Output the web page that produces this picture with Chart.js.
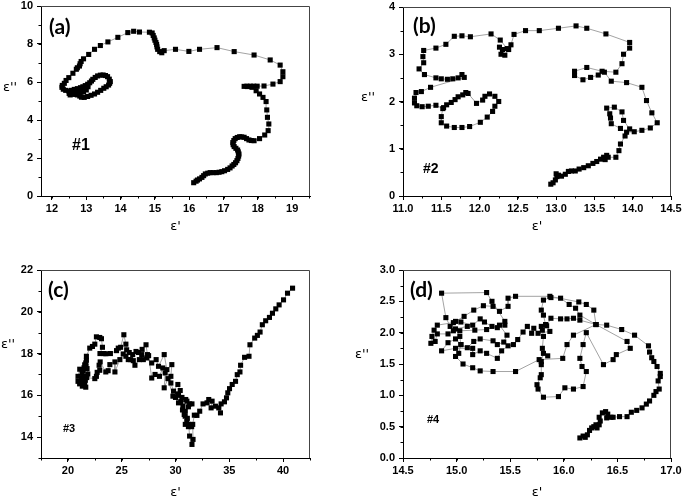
<!DOCTYPE html>
<html>
<head>
<meta charset="utf-8">
<script src="https://cdn.jsdelivr.net/npm/chart.js@4"></script>
<style>
body { margin: 0; background: #fff; }
#wrap { position: relative; width: 685px; height: 502px; }
canvas { position: absolute; }
</style>
</head>
<body>
<div id="wrap">
  <canvas id="ca" style="left:0;top:0" width="342" height="245"></canvas>
  <canvas id="cb" style="left:342px;top:0" width="343" height="245"></canvas>
  <canvas id="cc" style="left:0;top:245px" width="342" height="257"></canvas>
  <canvas id="cd" style="left:342px;top:245px" width="343" height="257"></canvas>
</div>
<script>
// punti (eps', eps''), nell'ordine della curva
const puntiA = [
  [16.13,0.70],[16.2,0.78],[16.24,0.84],[16.3,0.9],[16.37,0.98],[16.42,1.07],[16.47,1.16],[16.54,1.2],[16.61,1.23],[16.7,1.23],
  [16.79,1.23],[16.87,1.25],[16.95,1.28],[17.03,1.33],[17.12,1.4],[17.19,1.48],[17.25,1.58],[17.3,1.66],[17.35,1.75],[17.39,1.86],
  [17.42,1.98],[17.44,2.1],[17.45,2.21],[17.43,2.32],[17.41,2.42],[17.36,2.51],[17.31,2.6],[17.28,2.7],[17.27,2.81],[17.3,2.92],
  [17.34,3.02],[17.4,3.08],[17.47,3.12],[17.53,3.11],[17.6,3.09],[17.67,3.02],[17.74,2.95],[17.81,2.92],[17.89,2.91],[18.05,3.02],
  [18.2,3.21],[18.3,3.44],[18.32,3.79],[18.28,4.14],[18.26,4.53],[18.24,4.97],[18.15,5.19],[18.05,5.37],[17.95,5.54],[17.83,5.72],
  [17.7,5.76],[17.6,5.77],[17.68,5.78],[17.78,5.78],[17.88,5.78],[17.98,5.78],[18.18,5.79],[18.44,5.89],[18.65,6.02],[18.73,6.28],
  [18.73,6.54],[18.65,6.89],[18.36,7.16],[17.89,7.42],[17.31,7.6],[16.81,7.81],[16.3,7.72],[15.99,7.61],[15.6,7.72],[15.27,7.65],
  [15.2,7.54],[15.14,7.6],[15.08,7.72],[15.06,7.85],[15.05,7.97],[15.03,8.08],[15.0,8.2],[14.98,8.32],[14.95,8.45],[14.92,8.58],
  [14.84,8.62],[14.55,8.63],[14.38,8.67],[14.21,8.6],[13.92,8.35],[13.63,8.11],[13.41,7.92],[13.24,7.72],[13.07,7.45],[12.92,7.22],
  [12.85,7.08],[12.82,6.96],[12.8,6.84],[12.74,6.75],[12.71,6.67],[12.61,6.46],[12.49,6.23],[12.41,6.08],[12.36,5.93],[12.3,5.82],
  [12.29,5.72],[12.33,5.62],[12.4,5.56],[12.49,5.53],[12.57,5.56],[12.65,5.61],[12.74,5.65],[12.83,5.7],[12.9,5.75],[12.97,5.81],
  [13.04,5.88],[13.1,5.96],[13.15,6.05],[13.19,6.14],[13.26,6.24],[13.33,6.32],[13.41,6.36],[13.49,6.37],[13.56,6.34],[13.62,6.28],
  [13.67,6.15],[13.7,6.02],[13.68,5.93],[13.65,5.84],[13.58,5.75],[13.51,5.67],[13.42,5.56],[13.33,5.46],[13.24,5.37],[13.14,5.3],
  [13.04,5.24],[12.94,5.19],[12.86,5.2],[12.81,5.26],[12.74,5.32],[12.68,5.37],[12.6,5.35],[12.53,5.32],[12.5,5.4],[12.55,5.49],
  [12.64,5.52],[12.72,5.55],[12.81,5.6],[12.9,5.65],[12.98,5.7],[13.05,5.75],[13.0,5.58],[12.92,5.48],[12.82,5.4],[12.72,5.36]
];

const puntiB = [
  [12.93,0.25],[12.96,0.28],[12.99,0.34],[13.01,0.41],[13.0,0.47],[13.03,0.44],[13.07,0.42],[13.12,0.46],[13.16,0.52],[13.2,0.53],
  [13.25,0.53],[13.3,0.57],[13.36,0.6],[13.42,0.64],[13.48,0.69],[13.53,0.73],[13.58,0.78],[13.62,0.82],[13.66,0.86],[13.64,0.77],
  [13.68,0.82],[13.78,0.82],[13.82,0.96],[13.84,1.1],[13.9,1.27],[13.96,1.42],[13.88,1.6],[13.86,1.78],[13.76,1.88],[13.66,1.86],
  [13.7,1.74],[13.71,1.65],[13.72,1.53],[13.84,1.43],[13.92,1.35],[14.02,1.36],[14.12,1.39],[14.23,1.44],[14.32,1.55],[14.25,1.76],
  [14.18,2.02],[14.12,2.3],[13.92,2.4],[13.72,2.43],[13.63,2.62],[13.55,2.56],[13.45,2.51],[13.35,2.46],[13.24,2.55],[13.24,2.64],
  [13.4,2.72],[13.6,2.64],[13.78,2.62],[13.86,2.8],[13.88,3.0],[13.96,3.13],[13.96,3.25],[13.65,3.43],[13.4,3.55],[13.26,3.6],
  [13.03,3.55],[12.78,3.5],[12.6,3.5],[12.45,3.42],[12.41,3.2],[12.38,3.1],[12.33,2.98],[12.28,3.0],[12.26,3.15],[12.3,3.1],
  [12.36,3.12],[12.27,3.3],[12.15,3.43],[11.88,3.37],[11.77,3.39],[11.67,3.38],[11.56,3.21],[11.43,3.13],[11.27,3.08],[11.26,2.95],
  [11.27,2.82],[11.21,2.69],[11.28,2.57],[11.43,2.5],[11.5,2.48],[11.58,2.47],[11.65,2.48],[11.72,2.5],[11.77,2.57],[11.8,2.51],
  [11.36,2.3],[11.24,2.21],[11.17,2.19],[11.15,2.07],[11.15,1.97],[11.18,1.91],[11.25,1.89],[11.33,1.9],[11.43,1.92],[11.52,1.85],
  [11.5,1.68],[11.5,1.55],[11.57,1.48],[11.67,1.45],[11.77,1.45],[11.87,1.47],[12.01,1.56],[12.1,1.67],[12.17,1.79],[12.2,1.9],
  [12.25,2.0],[12.2,2.11],[12.13,2.16],[12.07,2.11],[12.04,2.03],[11.96,1.96],[11.85,2.17],[11.82,2.19],[11.78,2.14],[11.72,2.1],
  [11.68,2.04],[11.63,1.98],[11.57,1.93],[11.53,1.87]
];

const puntiC = [
  [40.88,21.13],[40.41,20.89],[40.04,20.57],[39.63,20.33],[39.32,20.14],[39.01,19.93],[38.73,19.73],[38.38,19.57],[38.07,19.38],[37.86,19.03],
  [37.61,18.87],[37.36,18.74],[36.92,18.42],[36.83,17.87],[36.42,17.82],[36.05,17.44],[35.99,17.12],[35.74,16.99],[35.58,16.67],[35.27,16.52],
  [35.02,16.32],[34.86,16.12],[34.74,15.88],[34.55,15.69],[34.24,15.59],[34.18,15.16],[34.02,15.4],[33.71,15.48],[33.31,15.4],[33.4,15.72],
  [33.09,15.8],[32.93,15.64],[32.56,15.59],[32.25,15.24],[31.99,15.04],[31.75,15.05],[31.6,14.61],[31.63,13.89],[31.53,13.65],[31.31,14.05],
  [31.22,14.61],[30.91,14.61],[31.1,14.9],[30.81,15.08],[30.91,15.24],[30.69,15.48],[31.06,15.72],[31.31,15.59],[31.53,15.59],[31.2,15.45],
  [30.95,15.8],[30.6,15.9],[30.28,15.64],[30.2,16.0],[30.44,16.23],[30.22,16.52],[29.82,16.2],[29.57,16.59],[29.57,16.91],[29.66,17.47],
  [29.2,17.23],[28.95,17.95],[28.42,17.39],[28.2,17.71],[27.79,17.55],[27.33,17.79],[27.39,17.95],[27.26,18.42],[26.9,18.2],[26.55,18.05],
  [26.33,18.1],[26.02,17.95],[25.7,18.05],[25.46,18.18],[25.39,18.45],[25.2,18.9],[24.9,18.3],[24.68,18.26],[24.52,18.14],[23.95,18.0],
  [23.52,17.99],[23.34,18.0],[22.98,18.0],[23.21,18.3],[23.12,18.71],[22.96,18.77],[22.65,18.8],[22.5,18.45],[22.28,18.34],[22.03,18.26],
  [21.72,17.87],[21.72,17.68],[21.66,17.55],[21.56,17.46],[21.5,17.32],[21.42,17.18],[21.32,17.05],[21.28,16.83],[21.5,16.92],[21.62,16.72],
  [21.66,16.39],[21.56,16.59],[21.45,16.52],[21.34,16.44],[21.2,16.62],[21.09,16.55],[20.94,16.67],[20.94,16.91],[21.1,17.25],[21.68,17.4],
  [21.78,17.28],[21.85,17.02],[21.75,16.85],[22.5,16.8],[22.65,16.91],[22.72,17.1],[22.96,17.2],[22.9,17.44],[23.0,17.6],[23.52,17.12],
  [23.74,17.18],[23.9,17.47],[24.37,17.6],[24.37,17.12],[24.83,17.71],[25.14,17.98],[25.39,17.87],[25.61,17.71],[25.83,17.71],[26.08,17.66],
  [26.23,17.44],[26.64,17.71],[26.86,17.95],[27.01,17.71],[27.5,17.9],[27.79,16.83],[28.1,17.0],[28.51,16.91],[28.82,17.31],[29.04,17.07],
  [28.95,16.36],[29.3,16.8],[29.76,15.96],[30.0,15.9],[30.28,16.07],[30.5,15.7],[30.65,15.3],[30.9,15.0],[31.05,14.75],[31.2,14.5],
  [31.35,14.6],[31.5,14.5]
];

const puntiD = [
  [16.15,0.32],[16.18,0.35],[16.2,0.33],[16.22,0.37],[16.24,0.44],[16.26,0.48],[16.28,0.5],[16.3,0.53],[16.31,0.48],[16.33,0.53],
  [16.34,0.59],[16.33,0.65],[16.36,0.72],[16.39,0.74],[16.41,0.7],[16.4,0.64],[16.44,0.65],[16.46,0.65],[16.52,0.66],[16.59,0.66],
  [16.63,0.73],[16.68,0.76],[16.73,0.8],[16.77,0.86],[16.8,0.91],[16.84,1.0],[16.86,1.06],[16.89,1.1],[16.88,1.23],[16.9,1.3],
  [16.9,1.35],[16.87,1.46],[16.84,1.54],[16.82,1.6],[16.8,1.69],[16.79,1.79],[16.66,1.96],[16.54,2.05],[16.4,2.12],[16.3,2.13],
  [16.59,1.86],[16.62,1.75],[16.49,1.65],[16.46,1.57],[16.37,1.49],[16.21,2.0],[16.18,1.81],[16.15,1.59],[16.17,1.46],[16.21,1.38],
  [16.18,1.14],[16.09,1.1],[16.01,1.12],[15.95,0.98],[15.81,0.97],[15.76,1.1],[15.75,1.17],[15.78,1.28],[15.79,1.33],[15.79,1.49],
  [15.79,1.54],[15.81,1.67],[15.85,1.63],[15.8,1.75],[15.81,1.94],[15.8,2.04],[15.79,2.1],[15.83,2.13],[15.81,2.28],[15.79,2.36],
  [15.81,2.52],[15.88,2.56],[15.97,2.55],[16.05,2.45],[16.11,2.39],[16.15,2.28],[16.3,2.13],[16.28,2.36],[16.21,2.45],[16.14,2.49],
  [15.87,2.58],[15.55,2.58],[15.48,2.55],[15.48,2.42],[15.4,2.34],[15.34,2.42],[15.25,2.43],[15.16,2.36],[15.07,2.26],[14.99,2.18],
  [14.94,2.1],[14.9,2.24],[14.86,2.63],[15.28,2.64],[15.33,2.5],[15.45,2.18],[15.45,2.12],[15.38,2.08],[15.33,2.1],[15.26,2.17],
  [15.22,2.22],[15.15,2.12],[15.04,2.17],[14.97,2.16],[14.82,2.12],[14.79,2.04],[14.77,1.94],[14.76,1.83],[14.8,1.86],[14.82,1.98],
  [14.92,1.98],[14.97,2.03],[15.03,2.03],[15.17,2.04],[15.28,2.05],[15.4,2.12],[15.47,1.96],[15.44,1.85],[15.38,1.81],[15.34,1.87],
  [15.22,1.9],[15.16,1.86],[15.1,1.76],[15.04,1.81],[14.99,1.9],[14.92,1.84],[14.86,1.71],[14.99,1.75],[15.15,1.75],[15.15,1.65],
  [15.22,1.71],[15.28,1.67],[15.38,1.59],[15.42,1.71],[15.48,1.79],[15.53,1.81],[15.57,1.89],[15.62,2.01],[15.66,2.1],[15.7,1.99],
  [15.72,2.07],[15.76,1.99],[15.87,2.02],[15.84,2.11],[15.88,2.23],[15.97,2.22],[16.03,2.22],[16.09,2.23],[16.15,2.2],[16.3,2.13],
  [16.09,1.96],[16.03,1.81],[15.99,1.59],[15.77,1.57],[15.55,1.38],[15.34,1.38],[15.22,1.39],[15.15,1.44],[15.06,1.5],[14.99,1.62],
  [15.02,1.67],[15.04,1.81],[15.03,1.94],[14.99,2.06],[15.1,2.1]
];

// tacche principali
const ticksAX = [12, 13, 14, 15, 16, 17, 18, 19];
const ticksAY = [0, 2, 4, 6, 8, 10];
const ticksBX = [11.0, 11.5, 12.0, 12.5, 13.0, 13.5, 14.0, 14.5];
const ticksBY = [0, 1, 2, 3, 4];
const ticksCX = [20, 25, 30, 35, 40];
const ticksCY = [14, 16, 18, 20, 22];
const ticksDX = [14.5, 15.0, 15.5, 16.0, 16.5, 17.0];
const ticksDY = [0.0, 0.5, 1.0, 1.5, 2.0, 2.5, 3.0];

// cornice, tacche minori e scritte
const cornice = {
  id: 'cornice',
  afterDraw(chart, args, o) {
    const c = chart.ctx, a = chart.chartArea;
    const sx = chart.scales.x, sy = chart.scales.y;
    c.save();
    c.strokeStyle = '#444';
    c.lineWidth = 1;
    c.beginPath();
    c.moveTo(a.left, a.top + 0.5);
    c.lineTo(a.right - 0.5, a.top + 0.5);
    c.lineTo(a.right - 0.5, a.bottom);
    c.stroke();

    c.strokeStyle = '#000';
    c.beginPath();
    for (let v = Math.ceil(sx.min / o.minX) * o.minX; v <= sx.max + 1e-9; v += o.minX) {
      const px = Math.round(sx.getPixelForValue(v)) + 0.5;
      c.moveTo(px, a.bottom);
      c.lineTo(px, a.bottom + 2.5);
    }
    for (let v = Math.ceil(sy.min / o.minY) * o.minY; v <= sy.max + 1e-9; v += o.minY) {
      const py = Math.round(sy.getPixelForValue(v)) + 0.5;
      c.moveTo(a.left, py);
      c.lineTo(a.left - 2.5, py);
    }
    c.stroke();

    c.fillStyle = '#000';
    c.textBaseline = 'middle';
    c.textAlign = 'left';
    c.font = 'bold 21px Lato';
    c.fillText(o.lettera, a.left + o.lettPos[0], a.top + o.lettPos[1]);
    c.font = 'bold ' + o.numSize + 'px "Liberation Sans"';
    c.fillText(o.numero, a.left + o.numPos[0], a.top + o.numPos[1]);
    c.textAlign = 'center';
    c.font = '13px "DejaVu Sans"';
    c.fillText("ε'", (a.left + a.right) / 2, a.bottom + o.xTit);
    c.fillText("ε''", a.left + o.yTit[0], a.top + o.yTit[1]);
    c.restore();
  }
};

function asse(min, max, tacche, dec, misura, orizz) {
  return {
    type: 'linear',
    min: min,
    max: max,
    afterBuildTicks: s => { s.ticks = tacche.map(v => ({ value: v })); },
    afterFit: s => {
      if (orizz) { s.height = misura; s.paddingLeft = 0; s.paddingRight = 0; }
      else { s.width = misura; s.paddingTop = 0; s.paddingBottom = 0; }
    },
    grid: { display: true, drawOnChartArea: false, drawTicks: true, tickLength: 4, color: '#000', lineWidth: 1 },
    border: { display: true, color: '#000', width: 1 },
    ticks: {
      autoSkip: false,
      maxRotation: 0,
      padding: orizz ? 2 : 4,
      color: '#000',
      font: { family: '"Liberation Sans"', size: 11, weight: 'bold' },
      callback: v => Number(v).toFixed(dec)
    }
  };
}

function creaGrafico(id, punti, g) {
  const ctx = document.getElementById(id);
  new Chart(ctx, {
    type: 'scatter',
    data: {
      datasets: [{
        data: punti.map(p => ({ x: p[0], y: p[1] })),
        showLine: true,
        borderColor: '#8c8c8c',
        borderWidth: 0.8,
        pointStyle: 'rect',
        pointRadius: 3.6,
        pointBackgroundColor: '#000',
        pointBorderColor: '#000',
        pointBorderWidth: 0
      }]
    },
    options: {
      responsive: false,
      animation: false,
      layout: { padding: g.pad },
      scales: {
        x: asse(g.x[0], g.x[1], g.tx, g.decX, g.altX, true),
        y: asse(g.y[0], g.y[1], g.ty, g.decY, g.largY, false)
      },
      plugins: {
        legend: { display: false },
        tooltip: { enabled: false },
        cornice: g.testi
      }
    },
    plugins: [cornice]
  });
}

creaGrafico('ca', puntiA, {
  x: [11.68, 19.52], y: [0, 10], tx: ticksAX, ty: ticksAY, decX: 0, decY: 0,
  pad: { left: 0, top: 6, right: 32, bottom: 0 }, altX: 49, largY: 41,
  testi: { minX: 0.5, minY: 1, lettera: '(a)', lettPos: [8, 21], numero: '#1', numSize: 16, numPos: [31, 140], xTit: 31, yTit: [-31, 82] }
});
creaGrafico('cb', puntiB, {
  x: [11, 14.5], y: [0, 4], tx: ticksBX, ty: ticksBY, decX: 1, decY: 0,
  pad: { left: 0, top: 7, right: 14, bottom: 0 }, altX: 49, largY: 61,
  testi: { minX: 0.25, minY: 0.5, lettera: '(b)', lettPos: [10, 19], numero: '#2', numSize: 14, numPos: [20, 162], xTit: 31, yTit: [-35, 91] }
});
creaGrafico('cc', puntiC, {
  x: [17.5, 42.5], y: [13, 22], tx: ticksCX, ty: ticksCY, decX: 0, decY: 0,
  pad: { left: 0, top: 25, right: 32, bottom: 0 }, altX: 44, largY: 41,
  testi: { minX: 2.5, minY: 1, lettera: '(c)', lettPos: [7, 20], numero: '#3', numSize: 11, numPos: [22, 159], xTit: 35, yTit: [-33, 75] }
});
creaGrafico('cd', puntiD, {
  x: [14.5, 17], y: [0, 3], tx: ticksDX, ty: ticksDY, decX: 1, decY: 1,
  pad: { left: 0, top: 25, right: 14, bottom: 0 }, altX: 44, largY: 61,
  testi: { minX: 0.25, minY: 0.25, lettera: '(d)', lettPos: [7, 20], numero: '#4', numSize: 11, numPos: [24, 150], xTit: 35, yTit: [-41, 85] }
});
</script>
</body>
</html>
